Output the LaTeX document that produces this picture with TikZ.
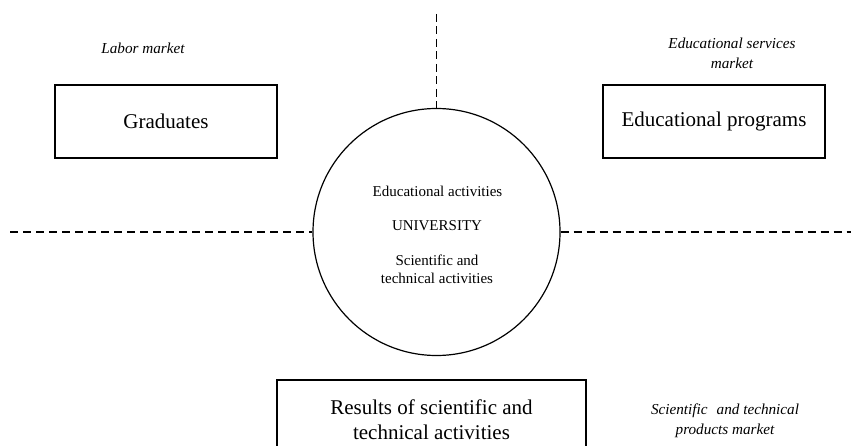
\documentclass[tikz,border=0pt]{standalone}
\usepackage{fontspec}
\setmainfont{Liberation Serif}
\begin{document}
\begin{tikzpicture}[x=1pt,y=-1pt,
  boxnode/.style={draw,line width=1.4pt,inner sep=0pt,align=center,font=\fontsize{21}{25}\selectfont},
  marketlabel/.style={inner sep=0pt,align=center,font=\fontsize{15.2}{20}\selectfont\itshape},
  insidetext/.style={inner sep=0pt,align=center,font=\fontsize{15}{17.5}\selectfont},
  divider/.style={line width=1.2pt,dash pattern=on 8pt off 5pt}]
\useasboundingbox (0,0) rectangle (853,446);
\clip (0,0) rectangle (853,446);
% university circle
\node[draw,circle,line width=1.2pt,minimum size=247pt,inner sep=0pt] (uni) at (436.5,232) {};
\node[insidetext] (edact) at (437.5,191) {Educational activities};
\node[insidetext] (univ) at (437,226) {UNIVERSITY};
\node[insidetext] (sciact) at (437,269.5) {Scientific and\\technical activities};
% boxes
\node[boxnode,minimum width=222pt,minimum height=73pt] (grad) at (166,121.5) {Graduates};
\node[boxnode,minimum width=222pt,minimum height=73pt] (edprog) at (714,121.5) {Educational programs};
\node[boxnode,minimum width=309pt,minimum height=79pt] (results) at (431.5,419.5) {Results of scientific and\\technical activities};
% market labels
\node[marketlabel] (labor) at (143,48) {Labor market};
\node[marketlabel] (edserv) at (732,53) {Educational services\\market};
\node[marketlabel] (sciprod) at (725,421) {Scientific\hspace{0.35em} and technical\\products market};
% dividers
\coordinate (vtop) at (436.5,14);
\coordinate (hleft) at (10,232);
\coordinate (hright) at (851,232);
\draw[divider,dash pattern=on 8pt off 4.5pt] (vtop) -- (uni.north);
\draw[divider] (hleft) -- (uni.west);
\draw[divider] (uni.east) -- (hright);
\end{tikzpicture}
\end{document}
